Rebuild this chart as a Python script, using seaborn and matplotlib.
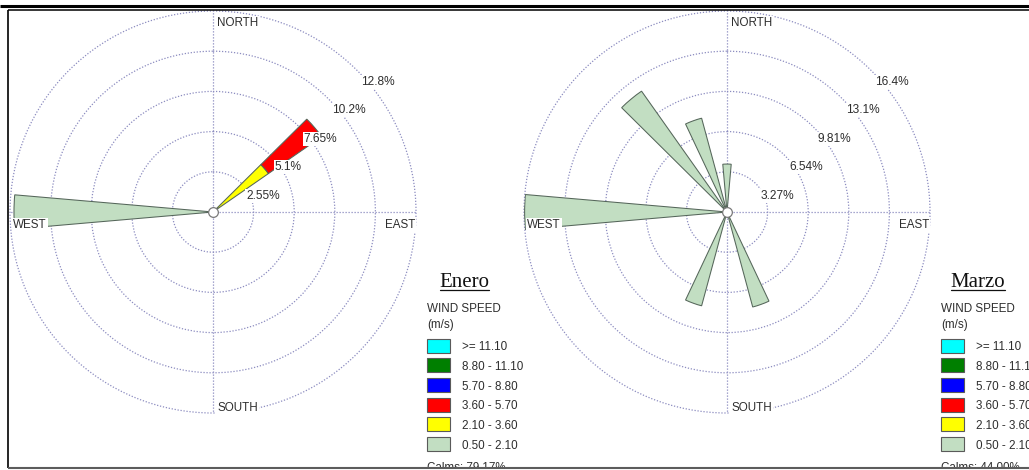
import numpy as np
import pandas as pd
import matplotlib
matplotlib.use("Agg")
import matplotlib.pyplot as plt
import seaborn as sns
from matplotlib.patches import Rectangle
from matplotlib.transforms import ScaledTranslation

# ---- wind speed classes (m/s), highest first as in the key ----
speed_labels = [">= 11.10", "8.80 - 11.10", "5.70 - 8.80",
                "3.60 - 5.70", "2.10 - 3.60", "0.50 - 2.10"]
speed_colors = ["#00ffff", "#007f00", "#0000ff", "#ff0000", "#ffff00", "#c2dec2"]

# ---- Enero: direction (deg from north), speed class, frequency (%) ----
enero_dir = [270, 50, 50]
enero_cls = ["0.50 - 2.10", "2.10 - 3.60", "3.60 - 5.70"]
enero_freq = [12.50, 4.25, 4.08]
enero_ring_step = 2.55
enero_ring_labels = ["2.55%", "5.1%", "7.65%", "10.2%", "12.8%"]
enero_calms = "Calms: 79.17%"

# ---- Marzo ----
marzo_dir = [270, 320, 340, 0, 160, 200]
marzo_cls = ["0.50 - 2.10"] * 6
marzo_freq = [16.30, 12.00, 7.90, 3.90, 8.00, 7.90]
marzo_ring_step = 3.27
marzo_ring_labels = ["3.27%", "6.54%", "9.81%", "13.1%", "16.4%"]
marzo_calms = "Calms: 44.00%"

cardinals = ["NORTH", "EAST", "SOUTH", "WEST"]

sns.set_theme(style="white")
plt.rcParams["font.family"] = ["Liberation Sans", "DejaVu Sans"]
palette = dict(zip(speed_labels, sns.color_palette(speed_colors)))

W, H = 1029, 470
fig = plt.figure(figsize=(W / 100, H / 100), dpi=100)
fig.patch.set_facecolor("white")

# overlay in pixel units for key, captions and frame
ov = fig.add_axes([0, 0, 1, 1], zorder=5)
ov.set_xlim(0, W)
ov.set_ylim(H, 0)
ov.axis("off")

GRID = "#8c8cc0"
DOTS = (0, (1, 1.4))
TXT = "#2e2e2e"
RX, RY = 203, 201  # ring radius in pixels (horizontal, vertical)


def px_offset(dx, dy):
    return ScaledTranslation(dx / 100, -dy / 100, fig.dpi_scale_trans)


def stacked(dirs, classes, freqs):
    df = pd.DataFrame({"dir": dirs, "cls": classes, "freq": freqs})
    rank = {c: i for i, c in enumerate(speed_labels[::-1])}
    df["rank"] = df["cls"].map(rank)
    df = df.sort_values(["dir", "rank"]).reset_index(drop=True)
    df["base"] = df.groupby("dir")["freq"].cumsum() - df["freq"]
    return df


def rose(cx, cy, dirs, classes, freqs, step, ring_labels, title, calms):
    ax = fig.add_axes([(cx - RX) / W, 1 - (cy + RY) / H, 2 * RX / W, 2 * RY / H],
                      projection="polar", zorder=1)
    ax.set_aspect("auto")
    ax.set_theta_zero_location("N")
    ax.set_theta_direction(-1)
    rings = [step * k for k in range(1, 6)]
    ax.set_ylim(0, rings[-1])
    ax.set_yticks(rings)
    ax.set_yticklabels([])
    ax.set_xticks(np.deg2rad([0, 90, 180, 270]))
    ax.set_xticklabels([])
    ax.tick_params(size=0)
    ax.spines["polar"].set_visible(False)
    ax.patch.set_alpha(0)
    ax.grid(True, color=GRID, linestyle=DOTS, linewidth=0.9)
    for gl in ax.xaxis.get_gridlines() + ax.yaxis.get_gridlines():
        gl.set_clip_on(False)

    df = stacked(dirs, classes, freqs)
    ax.bar(np.deg2rad(df["dir"]), df["freq"], width=np.deg2rad(10),
           bottom=df["base"], color=[palette[c] for c in df["cls"]],
           edgecolor="#55665a", linewidth=0.75, zorder=2)
    ax.plot([0], [0], "o", ms=7, mfc="white", mec="#7a7a7a", mew=0.9,
            zorder=4, clip_on=False)

    # ring percentages
    for r, lab in zip(rings, ring_labels):
        ax.text(np.deg2rad(45), r, lab, fontsize=8.6, color=TXT,
                ha="left", va="baseline", zorder=5,
                transform=ax.transData + px_offset(4.5, 15),
                bbox=dict(boxstyle="square,pad=0.08", fc="white", ec="none"))

    # compass points
    R = rings[-1]
    spots = {"NORTH": (0, 4, 15, "left"), "EAST": (90, -1, 16, "right"),
             "SOUTH": (180, 4, -2, "left"), "WEST": (270, 3, 16, "left")}
    for name in cardinals:
        ang, dx, dy, ha = spots[name]
        ax.text(np.deg2rad(ang), R, name, fontsize=8.4, color=TXT,
                ha=ha, va="baseline", zorder=5,
                transform=ax.transData + px_offset(dx, dy),
                bbox=dict(boxstyle="square,pad=0.08", fc="white", ec="none"))

    # key
    t = ov.text(cx + 251, 287, title, fontsize=15, family="Liberation Serif",
                color="#111111", ha="center", va="baseline")
    fig.canvas.draw()
    bb = t.get_window_extent().transformed(ov.transData.inverted())
    ov.plot([bb.x0 + 0.5, bb.x1 - 0.5], [289.5, 289.5], color="#111111", lw=0.9)

    ov.text(cx + 214, 312, "WIND SPEED", fontsize=8.4, color=TXT,
            ha="left", va="baseline")
    ov.text(cx + 214, 328, "(m/s)", fontsize=8.4, color=TXT,
            ha="left", va="baseline")
    for i, lab in enumerate(speed_labels):
        yc = 345.5 + 19.7 * i
        ov.add_patch(Rectangle((cx + 214, yc - 7), 23, 14, fc=palette[lab],
                               ec="#5a5a5a", lw=0.8, zorder=2))
        ov.text(cx + 249, yc + 4.6, lab, fontsize=8.4, color=TXT,
                ha="left", va="baseline")
    ov.text(cx + 214, 471, calms, fontsize=8.4, color=TXT,
            ha="left", va="baseline", zorder=2)


rose(213, 212, enero_dir, enero_cls, enero_freq, enero_ring_step,
     enero_ring_labels, "Enero", enero_calms)
rose(727, 212, marzo_dir, marzo_cls, marzo_freq, marzo_ring_step,
     marzo_ring_labels, "Marzo", marzo_calms)

# table frame
ov.add_patch(Rectangle((0, 466.5), W, 10, fc="white", ec="none", zorder=4))
ov.plot([0, W], [5.5, 5.5], color="black", lw=2.2, zorder=6, solid_capstyle="butt")
ov.plot([7.5, W], [9.5, 9.5], color="black", lw=1.1, zorder=6, solid_capstyle="butt")
ov.plot([7.5, 7.5], [9.5, 467.5], color="black", lw=1.2, zorder=6, solid_capstyle="butt")
ov.plot([7.5, W], [467.5, 467.5], color="#5c5c5c", lw=1.5, zorder=6, solid_capstyle="butt")

fig.savefig("out.png", dpi=100, facecolor="white")
